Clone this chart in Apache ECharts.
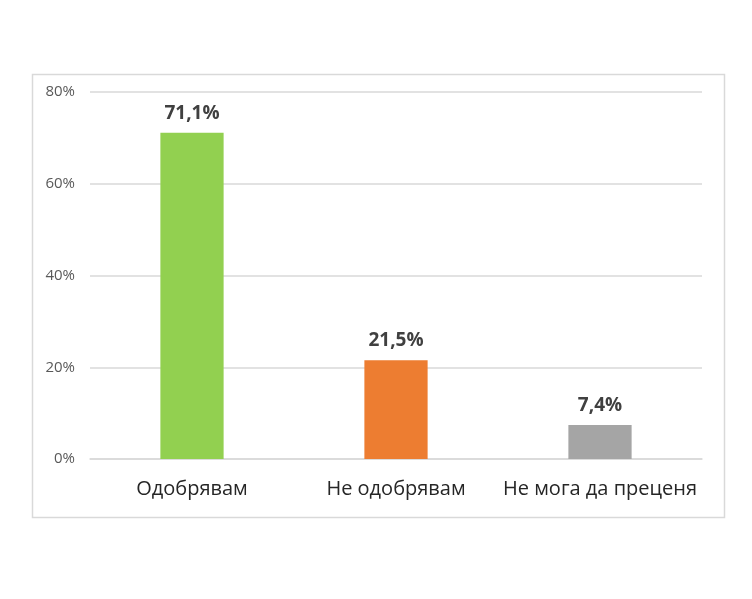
<!DOCTYPE html>
<html><head><meta charset="utf-8">
<script src="https://cdn.jsdelivr.net/npm/echarts@6/dist/echarts.min.js"></script>
<style>html,body{margin:0;padding:0;background:#fff}#c{width:752px;height:599px}</style>
</head><body><div id="c"></div>
<script>
const categories = ['Одобрявам', 'Не одобрявам', 'Не мога да преценя'];
const values = [71.1, 21.5, 7.4];
const colors = ['#92d050', '#ed7d31', '#a5a5a5'];
const yTicks = [0, 20, 40, 60, 80];

const chart = echarts.init(document.getElementById('c'));
chart.setOption({
  backgroundColor: '#fff',
  animation: false,
  graphic: [{
    type: 'rect', left: 30, top: 72,
    shape: { width: 692, height: 443 },
    style: { fill: 'none', stroke: '#d9d9d9', lineWidth: 1.5 }
  }],
  grid: { left: 90, right: 50, top: 92, bottom: 140 },
  xAxis: {
    type: 'category', data: categories,
    axisTick: { show: false },
    axisLine: { lineStyle: { color: '#d9d9d9', width: 1.5 } },
    axisLabel: { interval: 0, hideOverlap: false, color: '#262626', fontSize: 20, fontFamily: 'Open Sans, sans-serif', margin: 20 }
  },
  yAxis: {
    type: 'value', min: yTicks[0], max: yTicks[yTicks.length - 1], interval: 20,
    axisLine: { show: false }, axisTick: { show: false },
    splitLine: { lineStyle: { color: '#d9d9d9', width: 1.5 } },
    axisLabel: { color: '#595959', fontSize: 15, fontFamily: 'Open Sans, sans-serif', formatter: v => v + '%', margin: 15 }
  },
  series: [{
    type: 'bar', barWidth: '31%',
    data: values.map((v, i) => ({ value: v, itemStyle: { color: colors[i] } })),
    label: {
      show: true, position: 'top', distance: 10,
      color: '#404040', fontSize: 19, fontWeight: 'bold', fontFamily: 'Open Sans, sans-serif',
      formatter: p => p.value.toFixed(1).replace('.', ',') + '%'
    }
  }]
});
</script></body></html>
